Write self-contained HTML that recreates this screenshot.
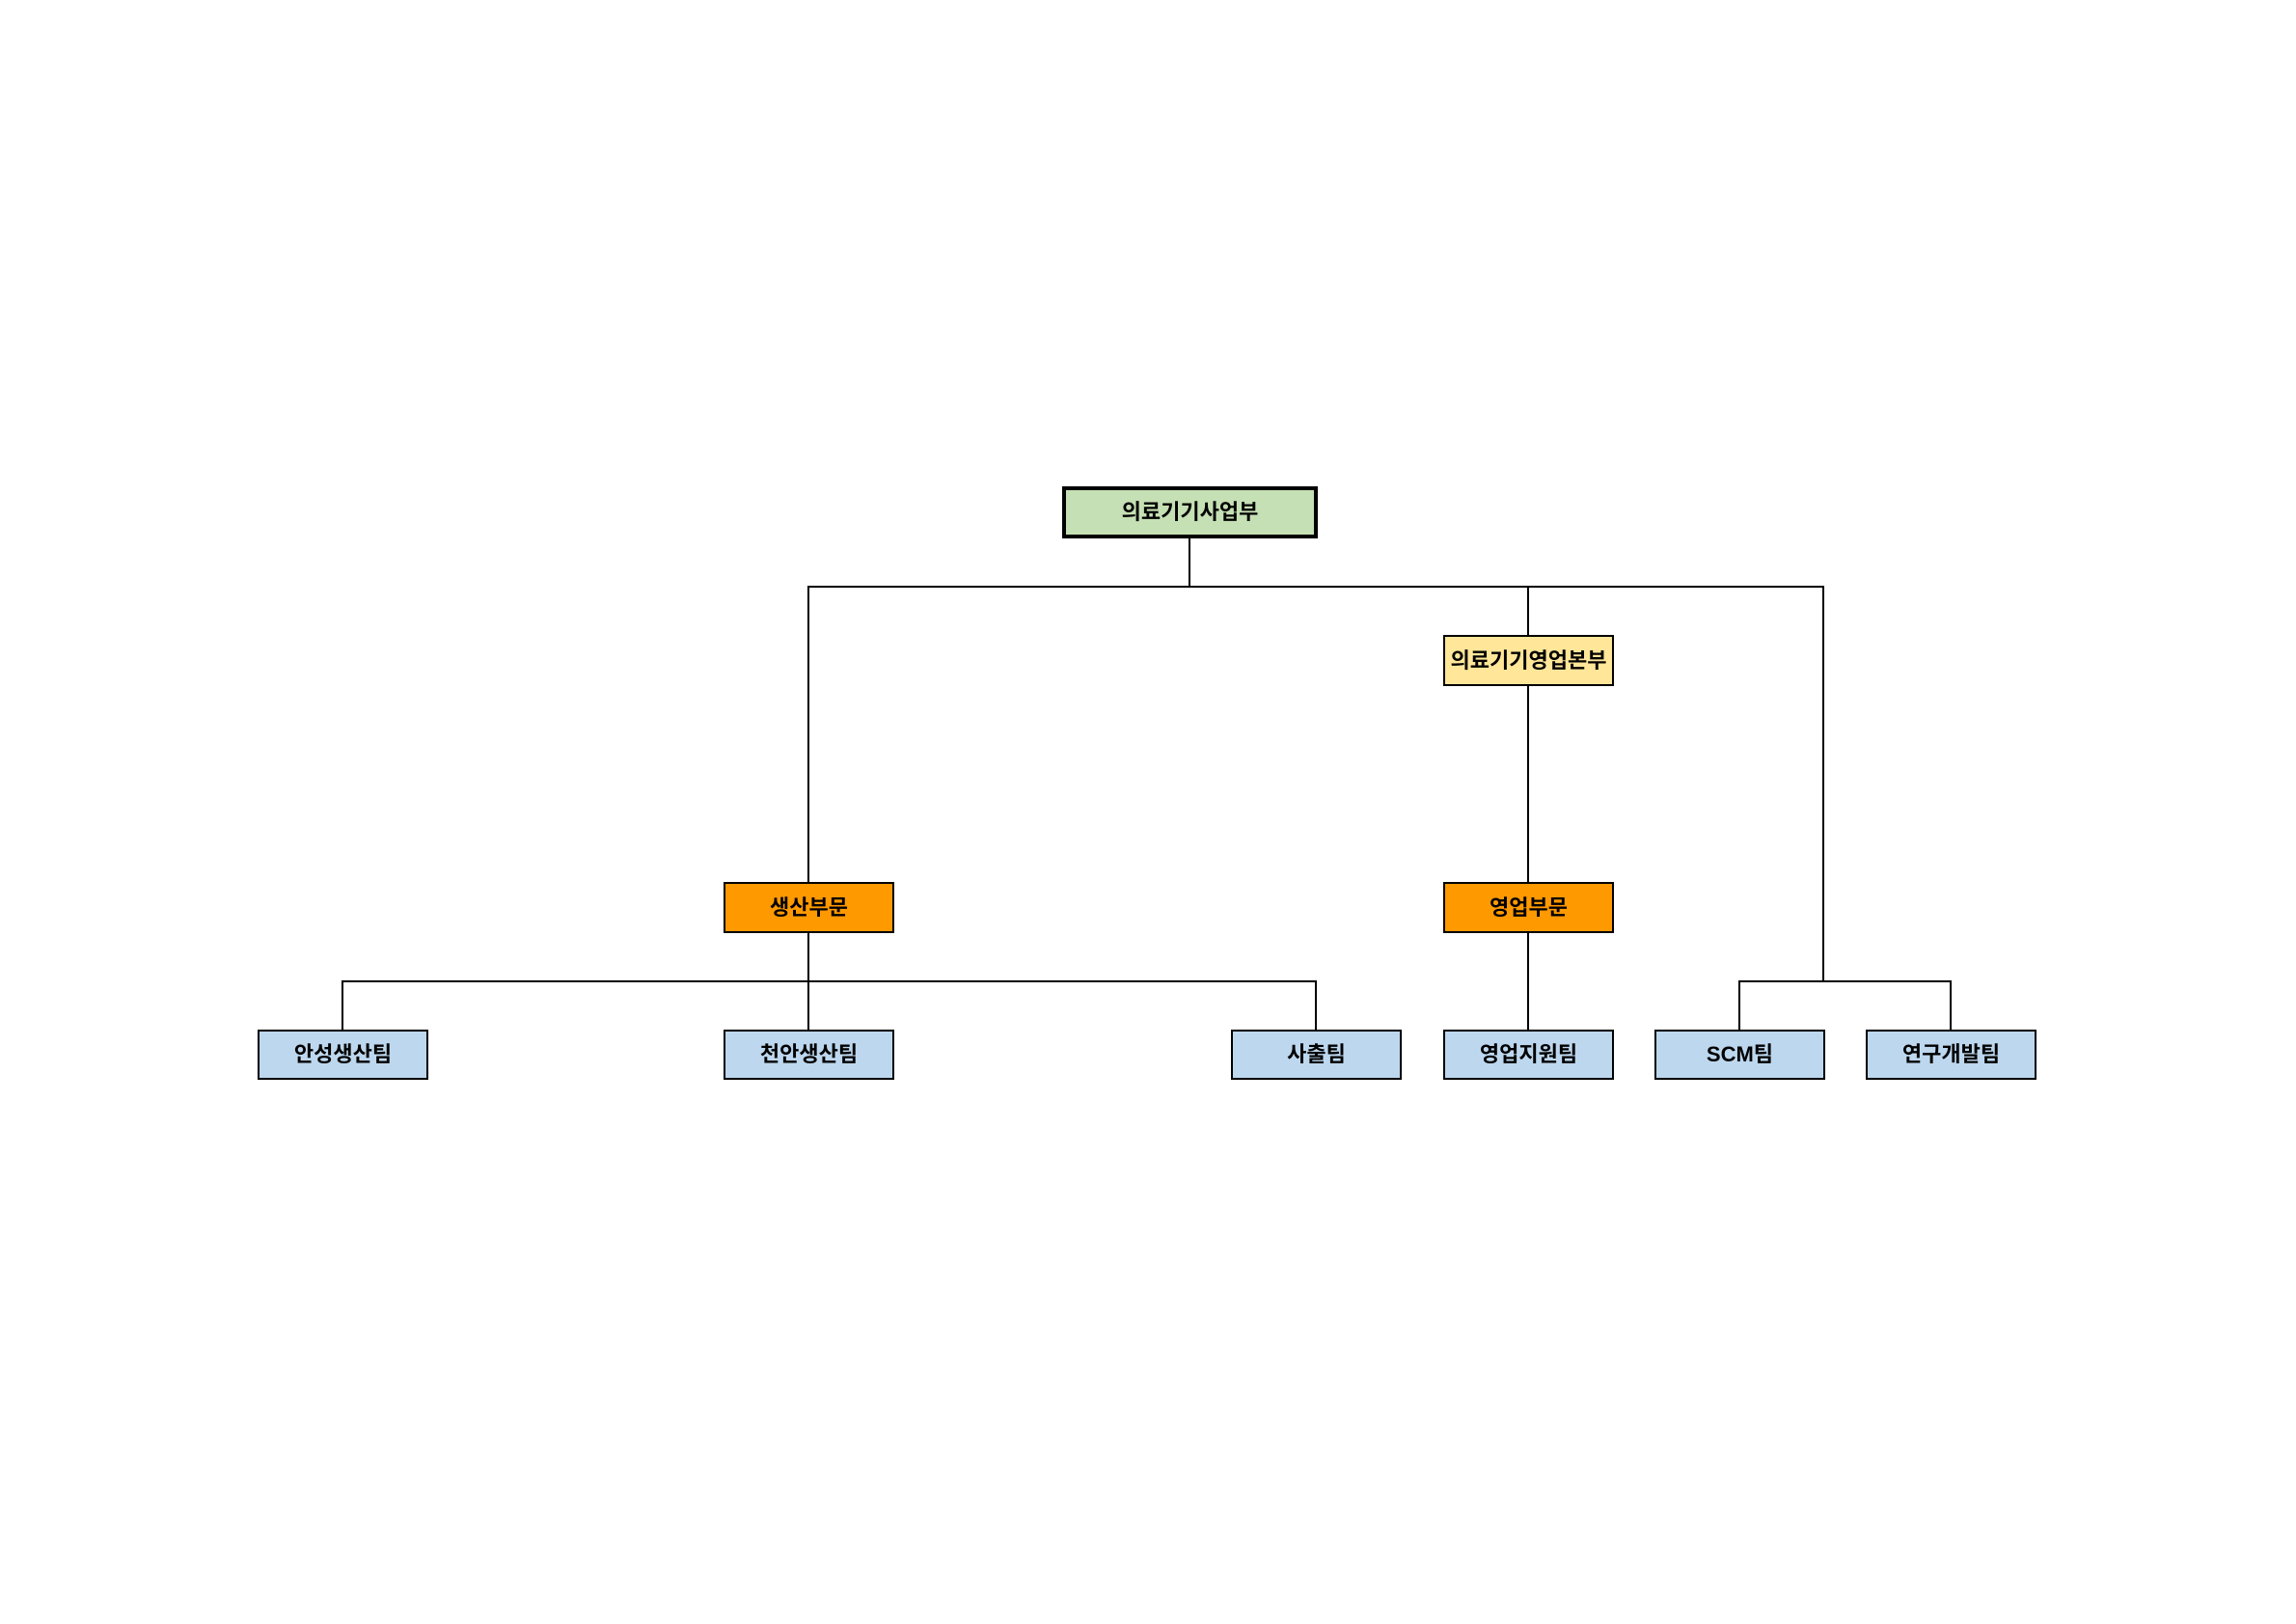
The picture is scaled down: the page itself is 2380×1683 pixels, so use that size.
<!DOCTYPE html>
<html><head><meta charset="utf-8"><style>
body{margin:0;width:2380px;height:1683px;background:#fff;position:relative;overflow:hidden;font-family:"Liberation Sans","Noto Sans CJK KR","NanumGothic",sans-serif}
.b{position:absolute;box-sizing:border-box;border:2px solid #000;display:flex;align-items:center;justify-content:center;font-weight:bold;font-size:22px;color:#000;padding-bottom:4px}
.l{position:absolute;background:#000}
.blue{background:#bdd7ee}
</style></head><body>
<div class="l" style="left:1232px;top:557px;width:2px;height:51px"></div>
<div class="l" style="left:837px;top:607px;width:1054px;height:2px"></div>
<div class="l" style="left:837px;top:607px;width:2px;height:308px"></div>
<div class="l" style="left:1583px;top:607px;width:2px;height:52px"></div>
<div class="l" style="left:1583px;top:710px;width:2px;height:205px"></div>
<div class="l" style="left:1889px;top:607px;width:2px;height:410px"></div>
<div class="l" style="left:837px;top:966px;width:2px;height:102px"></div>
<div class="l" style="left:354px;top:1016px;width:1011px;height:2px"></div>
<div class="l" style="left:354px;top:1016px;width:2px;height:52px"></div>
<div class="l" style="left:1363px;top:1016px;width:2px;height:52px"></div>
<div class="l" style="left:1583px;top:966px;width:2px;height:102px"></div>
<div class="l" style="left:1802px;top:1016px;width:221px;height:2px"></div>
<div class="l" style="left:1802px;top:1016px;width:2px;height:52px"></div>
<div class="l" style="left:2021px;top:1016px;width:2px;height:52px"></div>
<div class="b" style="left:1101px;top:504px;width:265px;height:54px;border-width:4px;background:#c5e0b4">의료기기사업부</div>
<div class="b" style="left:1496px;top:658px;width:177px;height:53px;background:#ffe699">의료기기영업본부</div>
<div class="b" style="left:750px;top:914px;width:177px;height:53px;background:#ff9900">생산부문</div>
<div class="b" style="left:1496px;top:914px;width:177px;height:53px;background:#ff9900">영업부문</div>
<div class="b blue" style="left:267px;top:1067px;width:177px;height:52px">안성생산팀</div>
<div class="b blue" style="left:750px;top:1067px;width:177px;height:52px">천안생산팀</div>
<div class="b blue" style="left:1276px;top:1067px;width:177px;height:52px">사출팀</div>
<div class="b blue" style="left:1496px;top:1067px;width:177px;height:52px">영업지원팀</div>
<div class="b blue" style="left:1715px;top:1067px;width:177px;height:52px">SCM팀</div>
<div class="b blue" style="left:1934px;top:1067px;width:177px;height:52px">연구개발팀</div>
</body></html>
